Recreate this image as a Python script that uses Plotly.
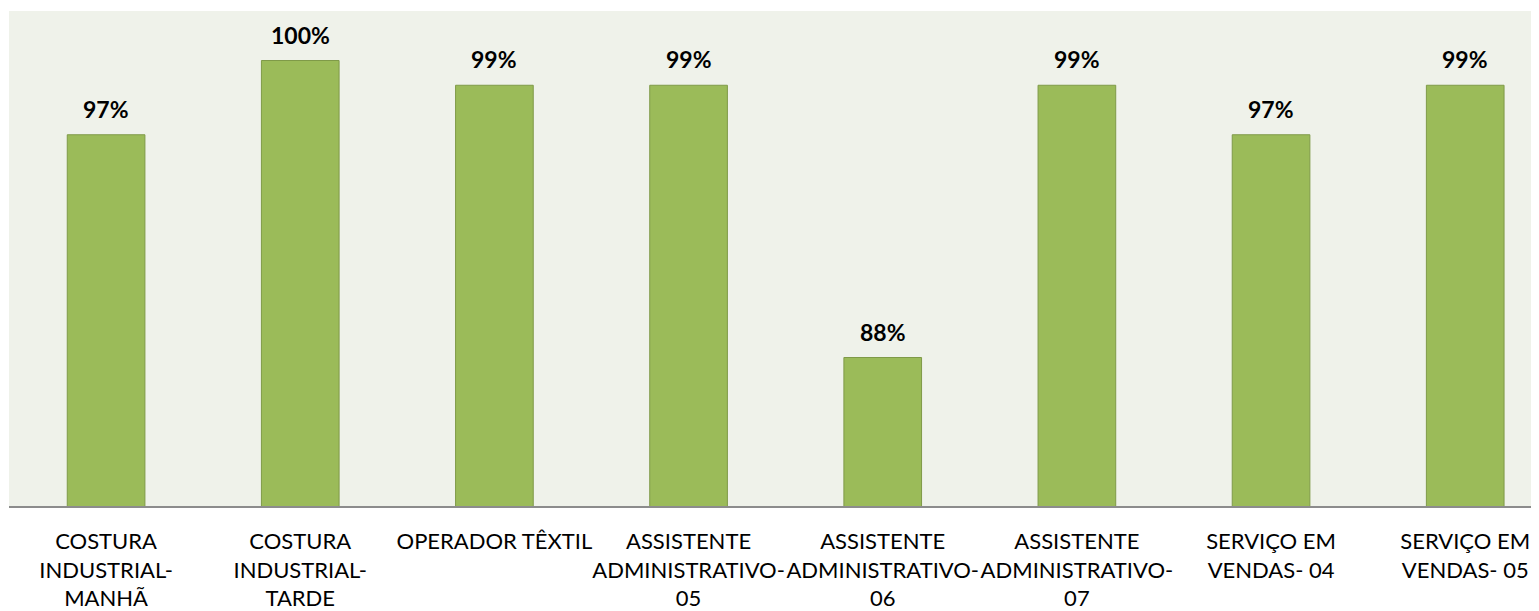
import plotly.graph_objects as go

categories = [
    "COSTURA<br>INDUSTRIAL-<br>MANHÃ",
    "COSTURA<br>INDUSTRIAL-<br>TARDE",
    "OPERADOR TÊXTIL",
    "ASSISTENTE<br>ADMINISTRATIVO-<br>05",
    "ASSISTENTE<br>ADMINISTRATIVO-<br>06",
    "ASSISTENTE<br>ADMINISTRATIVO-<br>07",
    "SERVIÇO EM<br>VENDAS- 04",
    "SERVIÇO EM<br>VENDAS- 05",
]
values = [97, 100, 99, 99, 88, 99, 97, 99]
value_labels = [f"{v}%" for v in values]

fig = go.Figure()
fig.add_trace(go.Bar(
    x=list(range(len(categories))),
    y=values,
    marker=dict(color="#9BBB59", line=dict(color="#7F9A48", width=1)),
    width=0.4,
    hoverinfo="skip",
))

for i, (v, t) in enumerate(zip(values, value_labels)):
    fig.add_annotation(
        x=i, y=v, text=f"<b>{t}</b>", showarrow=False,
        yanchor="bottom", yshift=10,
        font=dict(family="Lato", size=23, color="#000000"),
    )

fig.update_layout(
    width=1531, height=603,
    margin=dict(l=1, r=0, t=3, b=97),
    paper_bgcolor="#FFFFFF",
    plot_bgcolor="#EFF2EA",
    showlegend=False,
    font=dict(family="Lato", size=22, color="#000000"),
)
fig.update_xaxes(
    tickmode="array",
    tickvals=list(range(len(categories))),
    ticktext=categories,
    range=[-0.5, 7.38],
    showline=True, linecolor="#8C8C8C", linewidth=1.5,
    ticks="outside", ticklen=15, tickcolor="rgba(0,0,0,0)",
    tickangle=0,
    showgrid=False, zeroline=False,
    tickfont=dict(family="Lato", size=22, color="#000000"),
)
fig.update_yaxes(
    range=[82, 102],
    visible=False,
    showgrid=False, zeroline=False,
)

fig.write_html("out.html")
